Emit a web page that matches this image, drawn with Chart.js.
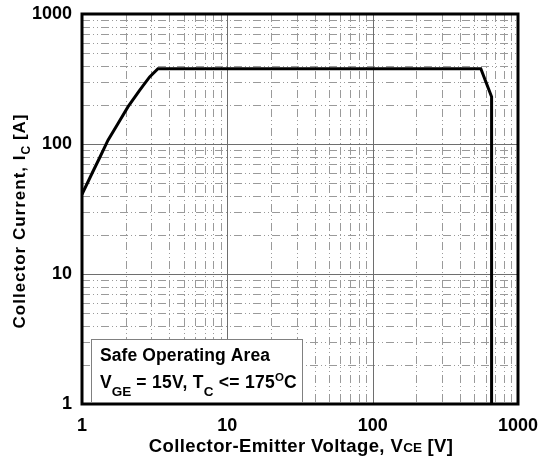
<!DOCTYPE html>
<html lang="en">
<head>
<meta charset="UTF-8">
<title>Safe Operating Area</title>
<style>
  html, body { margin: 0; padding: 0; background: #fff; }
  #wrap { width: 546px; height: 456px; }
</style>
</head>
<body>
<div id="wrap"><canvas id="soa" width="546" height="456"></canvas></div>
<script src="https://cdn.jsdelivr.net/npm/chart.js"></script>
<script>
// SOA boundary
const vce = [1, 1.16, 1.32, 1.51, 1.77, 2.07, 2.49, 2.92, 3.33, 555, 658, 658];
const ic  = [41, 58, 78, 107, 144, 193, 259, 328, 380, 380, 231, 1];

const xTicks = [1, 10, 100, 1000];
const yTicks = [1, 10, 100, 1000];
const minorSteps = [2, 3, 4, 5, 6, 7, 8, 9];

const FONT = '"Liberation Sans", Arial, sans-serif';

// draw a list of text pieces (for sub/superscripts)
function textRuns(ctx, x, y, runs) {
    let cx = x;
    runs.forEach(r => {
        ctx.font = 'bold ' + r.size + 'px ' + FONT;
        ctx.letterSpacing = (r.ls || 0) + 'px';
        ctx.fillText(r.t, cx, y + (r.dy || 0));
        cx += ctx.measureText(r.t).width;
    });
    ctx.letterSpacing = '0px';
    return cx - x;
}
function runsWidth(ctx, runs) {
    let w = 0;
    runs.forEach(r => {
        ctx.font = 'bold ' + r.size + 'px ' + FONT;
        ctx.letterSpacing = (r.ls || 0) + 'px';
        w += ctx.measureText(r.t).width;
    });
    ctx.letterSpacing = '0px';
    return w;
}

const soaPlugin = {
    id: 'soaPlugin',
    beforeDatasetsDraw(chart) {
        const { ctx, chartArea: a, scales: { x, y } } = chart;
        ctx.save();
        ctx.lineWidth = 1;
        function vline(px) { ctx.beginPath(); ctx.moveTo(px, a.top); ctx.lineTo(px, a.bottom); ctx.stroke(); }
        function hline(py) { ctx.beginPath(); ctx.moveTo(a.left, py); ctx.lineTo(a.right, py); ctx.stroke(); }

        // minor grid, dash-dot
        ctx.strokeStyle = '#9a9a9a';
        ctx.setLineDash([8, 3, 1, 3, 1, 3]);
        xTicks.slice(0, -1).forEach(d => minorSteps.forEach(m => {
            vline(Math.round(x.getPixelForValue(d * m)) + 0.5);
        }));
        yTicks.slice(0, -1).forEach(d => minorSteps.forEach(m => {
            hline(Math.round(y.getPixelForValue(d * m)) + 0.5);
        }));

        // decade grid, solid
        ctx.setLineDash([]);
        ctx.strokeStyle = '#6e6e6e';
        xTicks.slice(1, -1).forEach(v => vline(Math.round(x.getPixelForValue(v)) + 0.5));
        yTicks.slice(1, -1).forEach(v => hline(Math.round(y.getPixelForValue(v)) + 0.5));
        ctx.restore();
    },
    afterDatasetsDraw(chart) {
        const { ctx, chartArea: a } = chart;
        ctx.save();

        // plot frame
        ctx.strokeStyle = '#000';
        ctx.lineWidth = 3;
        ctx.strokeRect(a.left, a.top, a.right - a.left, a.bottom - a.top);

        // annotation box
        ctx.fillStyle = '#fff';
        ctx.fillRect(91, 339, 211, a.bottom - 340);
        ctx.strokeStyle = '#808080';
        ctx.lineWidth = 1;
        ctx.strokeRect(91.5, 339.5, 211, a.bottom - 341);

        ctx.fillStyle = '#000';
        ctx.textAlign = 'left';
        ctx.textBaseline = 'alphabetic';
        textRuns(ctx, 100, 361, [{ t: 'Safe Operating Area', size: 17.5, ls: 0.1 }]);
        textRuns(ctx, 100, 388, [
            { t: 'V', size: 17.5 },
            { t: 'GE', size: 13.5, dy: 8 },
            { t: ' = 15V, T', size: 17.5, ls: 0.3 },
            { t: 'C', size: 13.5, dy: 8 },
            { t: ' <= 175', size: 17.5, ls: 0.3 },
            { t: 'O', size: 11.5, dy: -7 },
            { t: 'C', size: 17.5 }
        ]);

        // x axis title
        const xRuns = [
            { t: 'Collector-Emitter Voltage, V', size: 18.5, ls: 0.4 },
            { t: 'CE', size: 13.5 },
            { t: ' [V]', size: 18.5, ls: 0.4 }
        ];
        const xw = runsWidth(ctx, xRuns);
        textRuns(ctx, 301 - xw / 2, 452, xRuns);

        // y axis title (rotated)
        const yRuns = [
            { t: 'Collector Current, I', size: 17, ls: 1 },
            { t: 'C', size: 12, dy: 5 },
            { t: ' [A]', size: 17, ls: 1 }
        ];
        const yw = runsWidth(ctx, yRuns);
        ctx.translate(25, 221);
        ctx.rotate(-Math.PI / 2);
        textRuns(ctx, -yw / 2, 0, yRuns);
        ctx.restore();
    }
};

new Chart(document.getElementById('soa'), {
    type: 'line',
    data: {
        datasets: [{
            data: vce.map((v, i) => ({ x: v, y: ic[i] })),
            borderColor: '#000',
            borderWidth: 3,
            pointRadius: 0,
            tension: 0,
            fill: false
        }]
    },
    options: {
        responsive: false,
        animation: false,
        devicePixelRatio: 1,
        layout: { padding: { top: 14, right: 28, left: 0, bottom: 0 } },
        plugins: { legend: { display: false }, tooltip: { enabled: false } },
        scales: {
            x: {
                type: 'logarithmic',
                min: 1,
                max: 1000,
                afterBuildTicks: s => { s.ticks = xTicks.map(v => ({ value: v })); },
                afterFit: s => { s.height = 52; s.paddingLeft = 0; s.paddingRight = 0; },
                grid: { display: false, drawTicks: false },
                border: { display: false },
                ticks: {
                    autoSkip: false,
                    maxRotation: 0,
                    padding: 11,
                    color: '#000',
                    font: { family: FONT, size: 18, weight: 'bold' },
                    callback: v => (xTicks.includes(v) ? String(v) : '')
                }
            },
            y: {
                type: 'logarithmic',
                min: 1,
                max: 1000,
                afterBuildTicks: s => { s.ticks = yTicks.map(v => ({ value: v })); },
                afterFit: s => { s.width = 82; s.paddingTop = 0; s.paddingBottom = 0; },
                grid: { display: false, drawTicks: false },
                border: { display: false },
                ticks: {
                    autoSkip: false,
                    padding: 10,
                    color: '#000',
                    font: { family: FONT, size: 18, weight: 'bold' },
                    callback: v => (yTicks.includes(v) ? String(v) : '')
                }
            }
        }
    },
    plugins: [soaPlugin]
});
</script>
</body>
</html>
